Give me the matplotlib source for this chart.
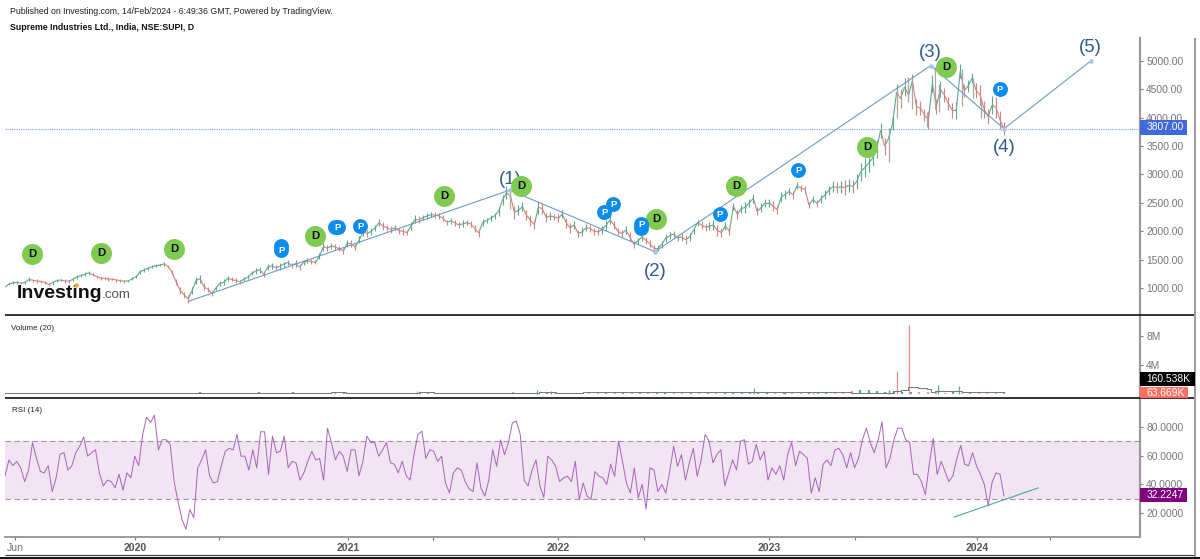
import numpy as np
import matplotlib
matplotlib.use("Agg")
import matplotlib.pyplot as plt
from matplotlib.collections import LineCollection
from matplotlib.patches import Rectangle
from matplotlib.lines import Line2D

plt.rcParams['font.family'] = ['Liberation Sans', 'DejaVu Sans']

W, H = 1200, 559

# weekly closes
price = [
    1018, 1070, 1090, 1100, 1085, 1095, 1150, 1135, 1125, 1115, 1100, 1060, 1095, 1130, 1140, 1125, 1120,
    1150, 1195, 1215, 1240, 1265, 1235, 1200, 1175, 1170, 1160, 1155, 1140, 1130, 1120, 1125, 1165,
    1200, 1290, 1320, 1350, 1375, 1395, 1405, 1425, 1375, 1270, 1110, 960, 880, 810, 950, 1130, 1165,
    1020, 975, 905, 1000, 1085, 1100, 1170, 1150, 1130, 1110, 1155, 1190, 1260, 1300,
    1320, 1240, 1370, 1390, 1360, 1380, 1420, 1450, 1400, 1430, 1370, 1450, 1480, 1465, 1450, 1560,
    1730, 1700, 1740, 1720, 1690, 1650, 1790, 1780, 1720, 1850, 1990, 1960, 2000, 2060, 2150, 2090,
    2060, 2030, 2060, 2010, 2000, 1975, 2090, 2210, 2200, 2240, 2270, 2290, 2285, 2270, 2230, 2160,
    2180, 2150, 2110, 2130, 2150, 2130, 2050, 1970, 2150, 2190, 2230, 2270, 2350, 2550, 2680,
    2620, 2330, 2370, 2430, 2290, 2190, 2120, 2420, 2400, 2240, 2270, 2250, 2230, 2300, 2150, 2060,
    2110, 1960, 1990, 2060, 2050, 2000, 1990, 2030, 2100, 2200, 2110, 2000, 1960, 2020, 1900, 1770,
    1830, 1900, 1840, 1780, 1700, 1700, 1770, 1880, 1920, 1950, 1880, 1900, 1850, 1900, 2020, 2150,
    2110, 2070, 2090, 2110, 2010, 1980, 2090, 2000, 2440, 2300, 2400, 2420, 2500, 2580,
    2350, 2420, 2500, 2500, 2440, 2380, 2600, 2650, 2700, 2640, 2800, 2760, 2740, 2460, 2560, 2490,
    2570, 2640, 2720, 2790, 2770, 2780, 2770, 2810, 2790, 2880, 3050, 3120, 3200, 3290, 3450, 3780,
    3500, 3640, 3900, 4450, 4340, 4540, 4400, 4650, 4190, 4170, 4050, 3960, 4600, 4200, 4500, 4400,
    4250, 4130, 4130, 4820, 4480, 4560, 4700, 4480, 4400, 4150, 4020, 4220, 4180, 3960, 3807,
]
price_start, price_end = 2019.382, 2024.128

# how far each week's range reaches either side of the close
week_range = [
    20, 25, 30, 22, 28, 35, 25, 30, 22, 26, 30, 35, 28, 22, 30, 25, 32, 28, 24, 35, 30, 26, 22, 28, 25, 30, 20, 26,
    22, 28, 24, 30, 26, 35, 30, 28, 24, 30, 26, 32, 28, 40, 50, 60, 55, 70, 60, 65, 70, 60, 45, 40, 35, 45, 50, 40,
    35, 45, 38, 32, 40, 35, 45, 50, 45, 60, 50, 40, 55, 45, 50, 40, 55, 45, 50, 40, 45, 35, 50, 70, 55, 60, 50, 45,
    55, 60, 65, 50, 60, 70, 55, 60, 50, 65, 70, 55, 60, 45, 55, 60, 50, 65, 70, 60, 50, 55, 45, 60, 50, 55, 45, 60,
    50, 55, 60, 45, 50, 65, 70, 60, 50, 55, 60, 75, 90, 110, 100, 120, 90, 80, 85, 90, 75, 110, 90, 80, 70, 60, 65,
    75, 85, 90, 70, 65, 80, 60, 55, 65, 60, 70, 90, 80, 65, 60, 70, 75, 80, 60, 55, 70, 65, 60, 50, 55, 65, 75, 60,
    55, 60, 70, 80, 75, 60, 55, 65, 60, 70, 90, 100, 80, 75, 70, 65, 80, 70, 90, 75, 80, 70, 85, 75, 70, 90, 80, 85,
    75, 65, 70, 60, 55, 60, 50, 55, 60, 70, 80, 85, 90, 95, 100, 130, 110, 120, 130, 160, 170, 150, 140, 160, 130,
    150, 120, 110, 150, 170, 160, 130, 120, 140, 130, 110, 160, 150, 130, 140, 120, 110, 130, 150, 120, 110, 100, 80,
    140, 170, 150, 130, 160, 180, 160, 120, 60, 20, 10, 10,
]

# long wicks that the weekly closes miss
wick_years = [2021.78, 2023.58, 2023.62, 2023.67, 2023.69, 2023.76, 2023.80, 2023.82, 2023.93, 2023.98, 2024.02]
wick_low = [2400, 3218, 4000, 4300, 4150, 3830, 4150, 4100, 4200, 4350, 4000]
wick_high = [2760, 3816, 4500, 4714, 4700, 4100, 4900, 4600, 4850, 4700, 4350]

rsi = [
    46, 57, 53, 56, 51.5, 42, 50, 69, 58, 49, 48, 53, 35, 44.6, 61, 62, 50, 53, 62, 66.5, 73, 59.6, 62, 64,
    48, 39, 43, 42, 37.6, 47, 36, 48, 44.6, 59.6, 53, 74.6, 86.6, 83, 88, 64, 71, 71, 67.7, 42, 28, 15.7, 9,
    22.6, 17, 51.5, 57, 64, 46, 41, 42, 53, 63, 65, 64, 74.6, 59.6, 59.6, 50, 64, 51.5, 76.5, 76.5, 47, 73.5,
    62, 63, 73.5, 51.5, 56, 55, 43, 48, 56, 63, 57, 58, 43, 79, 69, 57, 63, 59.6, 49, 64, 64, 46, 56, 73.5,
    69, 69, 59.6, 64, 69, 55, 54, 48, 56, 46, 43, 61, 74.6, 77, 58, 64, 63, 56, 59.6, 41, 34, 48,
    51.5, 50, 42, 37, 35, 55, 37.6, 32, 43, 64, 52.6, 71, 60.7, 69, 82.7, 84, 74.6, 43, 39, 50, 57, 39, 31,
    59.6, 57, 52.6, 42, 44.6, 45.7, 42, 56, 29.5, 41, 32, 29.5, 49, 45.7, 44.6, 40, 54, 45.7, 70, 56, 41, 34,
    51.5, 30.7, 40, 23, 51.5, 50, 35, 40, 34, 49, 66.5, 52.6, 60.7, 43, 55, 65, 45.7, 57, 74.6, 70, 55, 60.7,
    64, 39, 48, 57, 50, 70, 71, 54, 56, 67.7, 57, 63, 43, 51.5, 47, 53, 43, 61, 69, 53, 63, 60.7, 58, 34,
    44.6, 35, 54, 57, 53, 64, 65, 60.7, 51.5, 62, 51.5, 58, 71, 79, 69, 62, 71, 83.4, 51.5, 58, 71, 79,
    79, 71, 69, 47, 47, 42, 33, 54, 72, 47, 56, 49, 42, 46, 58, 67, 54, 53, 62, 53, 47, 40, 25, 42, 48, 47, 32,
]

# volume in millions, fortnightly baseline plus the days that stand out
volume = [
    0.14, 0.18, 0.12, 0.16, 0.11, 0.15, 0.13, 0.19, 0.12, 0.14, 0.10, 0.17, 0.13, 0.12, 0.16, 0.11,
    0.14, 0.12, 0.15, 0.18, 0.13, 0.11, 0.16, 0.22, 0.20, 0.17, 0.14, 0.12, 0.18, 0.15, 0.21, 0.13,
    0.17, 0.14, 0.24, 0.16, 0.13, 0.19, 0.15, 0.12, 0.20, 0.14, 0.17, 0.13, 0.16, 0.12, 0.18, 0.14,
    0.15, 0.28, 0.17, 0.13, 0.19, 0.14, 0.12, 0.16, 0.13, 0.18, 0.15, 0.14, 0.26, 0.18, 0.15, 0.13,
    0.17, 0.20, 0.14, 0.12, 0.16, 0.22, 0.19, 0.14, 0.13, 0.17, 0.15, 0.12, 0.18, 0.14, 0.16, 0.13,
    0.15, 0.12, 0.17, 0.14, 0.19, 0.13, 0.16, 0.20, 0.15, 0.13, 0.18, 0.14, 0.17, 0.16, 0.19, 0.21,
    0.18, 0.25, 0.22, 0.30, 0.42, 0.55, 0.60, 0.45, 0.30, 0.38, 0.28, 0.24, 0.30, 0.22, 0.26, 0.20,
    0.24, 0.18, 0.16, 0.22, 0.18, 0.15, 0.20,
]
volume_start, volume_end = 2019.382, 2024.128
spike_years = [2021.337, 2021.907, 2021.977, 2023.222, 2022.938, 2023.089, 2023.58, 2023.62, 2023.677, 2023.815, 2023.915]
spike_vol = [0.4, 0.6, 0.4, 0.3, 0.8, 0.3, 0.5, 3.2, 9.5, 1.2, 1.1]
spike_up = [False, True, True, False, True, True, True, False, False, True, True]

vol_ma_years = [2019.38, 2020.90, 2020.93, 2020.97, 2021.00, 2021.32, 2021.35, 2021.39, 2021.42, 2021.90,
                2021.92, 2021.98, 2022.00, 2022.10, 2022.13, 2023.40, 2023.55, 2023.60, 2023.64, 2023.67,
                2023.72, 2023.76, 2023.78, 2023.80, 2023.90, 2023.93, 2024.13]
vol_ma = [0.18, 0.18, 0.32, 0.32, 0.18, 0.18, 0.32, 0.30, 0.18, 0.18, 0.30, 0.30, 0.18, 0.18, 0.32, 0.2,
          0.2, 0.4, 0.5, 0.9, 0.85, 0.75, 0.25, 0.38, 0.42, 0.25, 0.16]

# wave count drawn on the chart
wave_years = [2020.257, 2021.78, 2022.47, 2023.78, 2024.128, 2024.54]
wave_prices = [770, 2725, 1640, 4920, 3807, 5000]
wave_labels = ['', '(1)', '(2)', '(3)', '(4)', '(5)']
wave_offset_px = [0, 11, -20, 13, -19, 13]

div_years = [2019.511, 2019.838, 2020.185, 2020.855, 2021.468, 2021.834, 2022.475, 2022.855, 2023.477, 2023.853]
div_prices = [1598, 1616, 1686, 1915, 2619, 2795, 2214, 2795, 3482, 4890]
pub_years = [2020.694, 2020.694, 2020.950, 2020.964, 2021.069, 2022.228, 2022.271, 2022.404, 2022.404, 2022.779, 2023.15, 2024.109]
pub_prices = [1739, 1669, 2074, 2074, 2091, 2338, 2478, 2056, 2126, 2302, 3077, 4502]
# the first of each overlapping pair sits behind and shows no letter
pub_labels = ['', 'P', '', 'P', 'P', 'P', 'P', '', 'P', 'P', 'P', 'P']

rsi_trend_years = [2023.891, 2024.29]
rsi_trend = [17.4, 37.6]

x_ticks = [2019.43, 2020.0, 2020.40, 2021.01, 2021.416, 2022.01, 2022.418, 2023.012, 2023.42, 2024.0, 2024.347]
x_labels = ['Jun', '2020', '', '2021', '', '2022', '', '2023', '', '2024', '']
price_ticks = [1000, 1500, 2000, 2500, 3000, 3500, 4000, 4500, 5000]
rsi_ticks = [20, 40, 60, 80]
vol_ticks = [4, 8]

UP = '#5da88e'
DOWN = '#d2857f'
GREY = '#9a9a9a'
TICK = '#777777'
WAVE = '#6f9cc4'
WAVE_TEXT = '#2f5a8c'


def px_axes(top, bottom):
    return [5 / W, 1 - bottom / H, 1135 / W, (bottom - top) / H]


def px_line(x0, y0, x1, y1, color, lw):
    fig.add_artist(Line2D([x0 / W, x1 / W], [1 - y0 / H, 1 - y1 / H], color=color, lw=lw,
                          transform=fig.transFigure, solid_capstyle='butt'))


def px_label(x0, y0, x1, y1, color, text):
    fig.add_artist(Rectangle((x0 / W, 1 - y1 / H), (x1 - x0) / W, (y1 - y0) / H, color=color, lw=0,
                             transform=fig.transFigure, zorder=6))
    fig.text(1146.5 / W, 1 - (y0 + y1) / 2 / H, text, color='white', fontsize=7.4, va='center', zorder=7)


fig = plt.figure(figsize=(W / 100, H / 100), dpi=100, facecolor='white')
ax = fig.add_axes(px_axes(38, 315))
ax_vol = fig.add_axes(px_axes(315, 398))
ax_rsi = fig.add_axes(px_axes(398, 537))

for a in (ax, ax_vol, ax_rsi):
    a.set_xlim(2019.382, 2024.774)
    for s in ('top', 'left', 'bottom'):
        a.spines[s].set_visible(False)
    a.spines['right'].set_color(GREY)
    a.spines['right'].set_linewidth(1.6)
    a.yaxis.tick_right()
    a.tick_params(axis='y', colors=TICK, labelsize=7.4, length=2.5, width=0.8, pad=2)
    a.set_xticks([])

# price
ax.set_ylim(524, 5405)
ax.set_yticks(price_ticks)
ax.set_yticklabels([f'{t}.00' for t in price_ticks])
years = np.linspace(price_start, price_end, len(price))
closes = np.array(price, dtype=float)
segs = np.stack([np.column_stack([years[:-1], closes[:-1]]), np.column_stack([years[1:], closes[1:]])], axis=1)
seg_cols = [UP if b >= a else DOWN for a, b in zip(closes[:-1], closes[1:])]
ax.add_collection(LineCollection(segs, colors=seg_cols, linewidths=0.8, zorder=2))
n = min(len(week_range), len(price) - 1)
spread = np.array(week_range[:n], dtype=float)
ax.vlines(years[1:n + 1], closes[1:n + 1] - spread, closes[1:n + 1] + spread, colors=seg_cols[:n], linewidth=0.8, zorder=2)
ax.vlines(wick_years, wick_low, wick_high, colors='#a8a8a0', linewidth=0.9, zorder=2)
ax.axhline(price[-1], color='#7f9fea', lw=0.8, ls=(0, (1, 1)), zorder=1)

ax.plot(wave_years, wave_prices, color=WAVE, lw=0.8, zorder=3)
ax.scatter(wave_years[1:], wave_prices[1:], s=5, color='#a9c4e4', zorder=3)
for xv, yv, lab, off in zip(wave_years, wave_prices, wave_labels, wave_offset_px):
    if lab:
        ax.annotate(lab, (xv, yv), xytext=(0, off * 0.72), textcoords='offset points', ha='center', va='center',
                    fontsize=13.4, color=WAVE_TEXT, zorder=3)

ax.scatter(div_years, div_prices, s=228, color='#7fcb51', lw=0, zorder=4)
for xv, yv in zip(div_years, div_prices):
    ax.text(xv, yv, 'D', ha='center', va='center', fontsize=8.2, fontweight='bold', color='#111111', zorder=5)
ax.scatter(pub_years, pub_prices, s=115, color='#0c8cec', lw=0, zorder=4)
for xv, yv, lab in zip(pub_years, pub_prices, pub_labels):
    if lab:
        ax.text(xv, yv, lab, ha='center', va='center', fontsize=6.8, fontweight='bold', color='white', zorder=5)

# volume
ax_vol.set_ylim(-0.55, 10.9)
ax_vol.set_yticks(vol_ticks)
ax_vol.set_yticklabels([f'{t}M' for t in vol_ticks])
vol_x = np.linspace(volume_start, volume_end, len(volume))
idx = np.clip(np.searchsorted(years, vol_x), 1, len(price) - 1)
vol_cols = [UP if closes[i] >= closes[i - 1] else '#ee9a98' for i in idx]
ax_vol.vlines(vol_x, 0, volume, colors=vol_cols, linewidth=1.6)
ax_vol.vlines(spike_years, 0, spike_vol, colors=[UP if u else '#ee8a88' for u in spike_up], linewidth=0.9)
ax_vol.plot(vol_ma_years, vol_ma, color='#777777', lw=0.7, drawstyle='steps-post')

# rsi
ax_rsi.set_ylim(3.6, 99.9)
ax_rsi.set_yticks(rsi_ticks)
ax_rsi.set_yticklabels([f'{t}.0000' for t in rsi_ticks])
ax_rsi.axhspan(30, 70, color='#f1e4f3', lw=0, zorder=0)
ax_rsi.axhline(70, color='#a98fa9', lw=0.8, ls=(0, (5, 3)), zorder=1)
ax_rsi.axhline(30, color='#a98fa9', lw=0.8, ls=(0, (5, 3)), zorder=1)
ax_rsi.plot(np.linspace(price_start, price_end, len(rsi)), rsi, color='#a864b8', lw=0.7, zorder=2)
ax_rsi.plot(rsi_trend_years, rsi_trend, color='#4fa6a0', lw=0.8, zorder=3)
ax_rsi.spines['bottom'].set_visible(True)
ax_rsi.spines['bottom'].set_color(GREY)
ax_rsi.spines['bottom'].set_linewidth(1.4)
ax_rsi.set_xticks(x_ticks)
ax_rsi.set_xticklabels(x_labels)
ax_rsi.tick_params(axis='x', length=2.5, width=0.8, color=TICK, labelsize=7.6, pad=2)
for lab in ax_rsi.get_xticklabels():
    if lab.get_text() == 'Jun':
        lab.set_color(TICK)
    else:
        lab.set_color('#555555')
        lab.set_fontweight('bold')

# separators and outer frame
px_line(5, 315, 1195, 315, '#222222', 1.3)
px_line(5, 398, 1195, 398, '#222222', 1.3)
px_line(5, 555, 1195, 555, '#444444', 0.9)
px_line(0, 558, 1200, 558, '#111111', 1.4)
px_line(1195, 38, 1195, 557, GREY, 1.4)

# value flags on the right scale
px_label(1140, 120, 1187, 135, '#4169dc', '3807.00')
px_label(1140, 372, 1195, 386, '#000000', '160.538K')
px_label(1140, 387, 1188, 398, '#ff6f61', '63.669K')
px_label(1140, 488, 1187, 502, '#800080', '32.2247')

# header and pane titles
fig.text(10 / W, 1 - 11 / H, 'Published on Investing.com, 14/Feb/2024 - 6:49:36 GMT, Powered by TradingView.',
         fontsize=6.3, color='#222222', va='center')
fig.text(10 / W, 1 - 27 / H, 'Supreme Industries Ltd., India, NSE:SUPI, D', fontsize=6.3, fontweight='bold',
         color='#111111', va='center')
fig.text(11 / W, 1 - 328 / H, 'Volume (20)', fontsize=5.8, color='#222222', va='center')
fig.text(12 / W, 1 - 410 / H, 'RSI (14)', fontsize=5.8, color='#222222', va='center')

# logo
fig.text(17 / W, 1 - 298 / H, 'Investing', fontsize=14, fontweight='bold', color='#111111', va='baseline', zorder=6)
fig.text(102 / W, 1 - 298 / H, '.com', fontsize=9.6, color='#555555', va='baseline', zorder=6)
fig.add_artist(Line2D([76 / W], [1 - 285 / H], marker='o', ms=2.2, color='#f5a623', lw=0,
                      transform=fig.transFigure, zorder=7))

fig.savefig('out.png', dpi=100, facecolor='white')
